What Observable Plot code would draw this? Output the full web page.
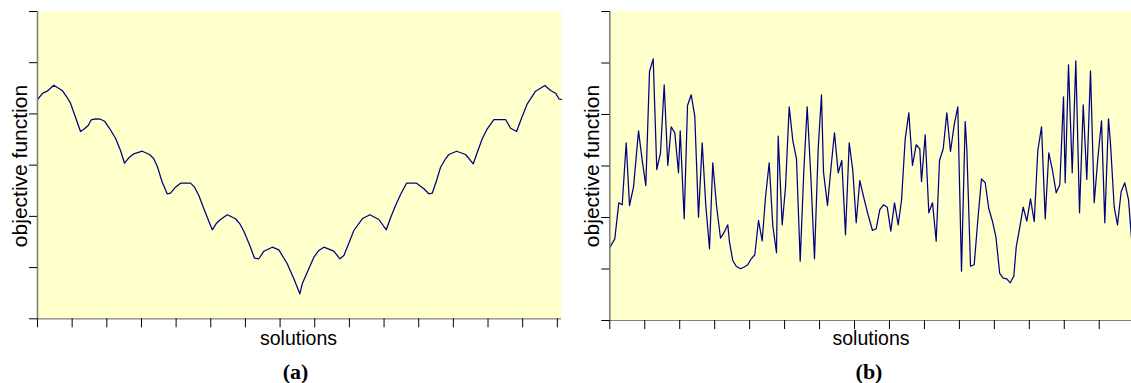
<!DOCTYPE html>
<html>
<head>
<meta charset="utf-8">
<script src="https://cdn.jsdelivr.net/npm/d3@7"></script>
<script src="https://cdn.jsdelivr.net/npm/@observablehq/plot@0.6"></script>
<style>
  html, body { margin: 0; padding: 0; background: #fff; overflow: hidden; }
  #wrap { position: relative; width: 1140px; height: 383px; }
  .panel { position: absolute; top: 0; }
  .lbl { position: absolute; font-family: "Liberation Sans", Arial, sans-serif; color: #000; white-space: nowrap; line-height: 1; }
  .ylab { font-size: 21px; transform: translate(-50%, -50%) rotate(-90deg); }
  .xlab { font-size: 19.5px; transform: translateX(-50%) scaleY(1.08); transform-origin: 50% 100%; }
  .cap { position: absolute; font-family: "Liberation Serif", "Times New Roman", serif; font-weight: bold; font-size: 22px; line-height: 1; transform: translateX(-50%); }
</style>
</head>
<body>
<div id="wrap">
  <div id="pa" class="panel" style="left:0px"></div>
  <div id="pb" class="panel" style="left:570px"></div>
  <div class="lbl ylab" style="left:18.5px; top:166px">objective function</div>
  <div class="lbl ylab" style="left:590.5px; top:166px">objective function</div>
  <div class="lbl xlab" style="left:298.5px; top:328.5px">solutions</div>
  <div class="lbl xlab" style="left:871px; top:328.5px">solutions</div>
  <div class="cap" style="left:295.5px; top:361px">(a)</div>
  <div class="cap" style="left:869px; top:361px">(b)</div>
</div>
<script>
// ---- data ----
const xTicks = [0, 10, 20, 30, 40, 50, 60, 70, 80, 90, 100, 110, 120, 130, 140, 150];
const yTicks = [0, 10, 20, 30, 40, 50, 60];

// panel (a): smooth landscape
const aX = [0, 1.53, 2.80, 4.70, 5.86, 7.13, 8.37, 9.52, 10.97, 12.41, 13.56, 14.63, 15.50, 16.74, 18.18, 19.34, 20.87, 22.51, 23.95, 25.11, 26.35, 27.79, 30.22, 32.32, 33.56, 34.55, 35.99, 37.43, 38.38, 39.83, 41.27, 44.16, 45.31, 46.55, 48.00, 50.42, 51.66, 52.81, 54.75, 57.14, 58.38, 59.54, 61.27, 62.62, 63.87, 65.31, 67.73, 69.64, 72.06, 73.97, 75.70,
  76.39, 77.84, 79.74, 81.18, 82.63, 85.51, 87.24, 88.40, 89.84, 91.28, 93.71, 95.90, 98.50, 100.64, 101.88, 103.32, 104.76, 106.50, 109.38, 111.49, 112.93, 113.91, 115.15, 116.31, 117.75, 118.70, 120.93, 123.52, 125.74, 126.90, 128.34, 129.78, 131.69, 135.06, 136.51, 138.24, 139.60, 141.33, 143.72, 146.41, 148.05, 149.50, 150.45, 151.23];
const aY = [42.82, 44.05, 44.44, 45.61, 45.10, 44.58, 43.40, 42.10, 39.36, 36.57, 37.10, 37.74, 38.85, 39.05, 38.97, 38.58, 37.10, 35.26, 32.86, 30.38, 31.44, 32.22, 32.72, 32.08, 31.24, 29.80, 26.67, 24.41, 24.52, 25.70, 26.48, 26.48, 25.70, 24.07, 21.48, 17.38, 18.67, 19.39, 20.31, 19.53, 18.55, 17.10, 14.31, 11.83, 11.72, 13.20, 13.98, 13.47, 10.74, 7.81, 4.88,
  6.83, 9.10, 12.03, 13.34, 13.98, 13.20, 11.72, 12.36, 14.76, 17.24, 19.53, 20.31, 19.39, 17.38, 19.72, 22.12, 24.27, 26.48, 26.48, 25.38, 24.41, 24.52, 27.00, 29.60, 31.24, 32.08, 32.72, 32.08, 30.26, 32.53, 35.15, 37.10, 38.91, 38.91, 37.21, 36.57, 39.05, 41.98, 44.44, 45.55, 44.58, 44.05, 42.96, 42.82];

// panel (b): rugged landscape
const bX = [0, 1.43, 2.57, 3.55, 4.69, 5.64, 6.78, 8.22, 9.27, 10.30, 11.36, 12.41, 13.44, 14.50, 15.56, 16.59, 17.56, 18.59, 19.65, 20.14, 21.28, 22.23, 23.28, 24.31, 25.37, 26.43, 27.46, 28.52, 29.46, 30.52, 31.67, 32.72, 33.75, 34.24, 35.18, 36.16, 37.39, 38.33, 39.47, 40.45, 41.48, 42.53, 43.59, 44.54, 45.59, 46.62, 47.68, 48.17, 49.31, 50.26, 51.32, 52.35, 53.40, 54.46, 55.49, 56.46, 57.49, 58.55, 59.61, 60.55, 61.13, 62.27, 63.33, 64.27, 65.33, 66.36, 67.42, 68.48, 69.51, 70.48, 71.51, 72.65, 73.86, 75.14, 76.20, 77.23, 78.29, 79.35, 80.38, 81.44, 82.49, 83.44, 84.50, 85.53, 86.58, 87.64, 88.67, 89.16, 90.22, 91.25, 92.31, 93.36, 94.31, 95.37, 96.40, 97.45, 98.51, 99.54, 100.60, 101.66, 102.12, 103.18, 104.23, 105.26, 106.32, 107.38, 108.41, 109.47, 110.47, 111.53, 112.53, 113.56, 114.53, 115.56, 116.25, 117.19, 118.25, 119.28, 120.34, 121.40, 122.43, 123.49, 124.55, 125.57, 126.63, 127.69, 128.72, 129.78, 130.26, 131.21, 132.27, 133.30, 134.36, 135.42, 136.44, 137.50, 138.56, 139.59, 140.65, 141.59, 142.65, 143.22, 144.28, 145.22, 146.28, 147.31, 148.37, 149.23];
const bY = [14.2, 15.86, 22.85, 22.47, 34.50, 22.33, 25.88, 36.83, 31.07, 26.21, 48.35, 50.81, 29.32, 32.56, 45.77, 30.10, 37.61, 36.45, 28.68, 36.83, 19.75, 41.75, 43.82, 39.67, 20.06, 34.50, 22.33, 13.92, 30.62, 22.33, 15.98, 17.15, 18.58, 15.20, 11.65, 10.54, 10.04, 10.35, 10.82, 11.98, 12.76, 19.42, 15.48, 23.94, 30.62, 18.45, 13.15, 35.79, 18.58, 25.88, 41.49, 34.95, 31.40, 11.51, 28.93, 41.49, 28.15, 11.98, 33.34, 43.82, 28.80, 22.33, 30.10, 36.45, 28.68, 31.07, 16.64, 34.50, 29.13, 18.97, 27.18, 23.88, 20.58, 17.48, 17.81, 21.55, 22.47, 22.00, 17.34, 22.85, 18.58, 23.30, 35.28, 40.33, 30.10, 34.12, 33.34, 26.99, 36.06, 20.91, 22.85, 15.40, 31.07, 33.34, 40.33, 32.81, 38.00, 41.49, 9.57, 38.64, 33.34, 10.54, 10.82, 19.42, 27.51, 26.74, 21.69, 19.22, 16.12, 9.13, 8.21, 8.10, 7.32, 8.60, 14.23, 17.81, 22.00, 19.28, 23.63, 19.22, 33.01, 37.61, 19.75, 32.56, 29.13, 24.80, 26.35, 43.44, 26.74, 49.65, 28.68, 50.43, 20.91, 41.88, 27.38, 48.48, 22.85, 31.40, 38.78, 18.97, 39.16, 34.31, 22.00, 18.58, 25.05, 26.74, 23.49, 15.98];

const aData = aX.map((x, i) => ({x, y: aY[i]}));
const bData = bX.map((x, i) => ({x, y: bY[i]}));

function panel(data, xDomain, opts) {
  return Plot.plot({
    width: 570,
    height: 335,
    marginLeft: opts.ml,
    marginRight: opts.mr,
    marginTop: 11,
    marginBottom: opts.mb,
    style: {background: "transparent", overflow: "visible"},
    x: {domain: xDomain, ticks: xTicks, tickSize: 9, tickFormat: () => ""},
    y: {domain: [0, 60], ticks: yTicks, tickSize: 8, tickFormat: () => ""},
    marks: [
      Plot.frame({fill: "#ffffcc", stroke: null}),
      Plot.line(data, {x: "x", y: "y", stroke: "#000080", strokeWidth: 1.25}),
      Plot.ruleX([xDomain[0]], {stroke: "#808080", strokeWidth: 1.6}),
      Plot.ruleY([0], {stroke: "#808080", strokeWidth: 1.2}),
      Plot.axisX({ticks: xTicks, tickSize: 9, tickFormat: () => "", label: null, stroke: "#000"}),
      Plot.axisY({ticks: yTicks, tickSize: 8, tickFormat: () => "", label: null, stroke: "#000"})
    ]
  });
}

document.getElementById("pa").appendChild(panel(aData, [0, 151.2], {ml: 37, mr: 9, mb: 16.7}));
document.getElementById("pb").appendChild(panel(bData, [0, 150], {ml: 39.3, mr: 6.3, mb: 15}));
</script>
</body>
</html>
